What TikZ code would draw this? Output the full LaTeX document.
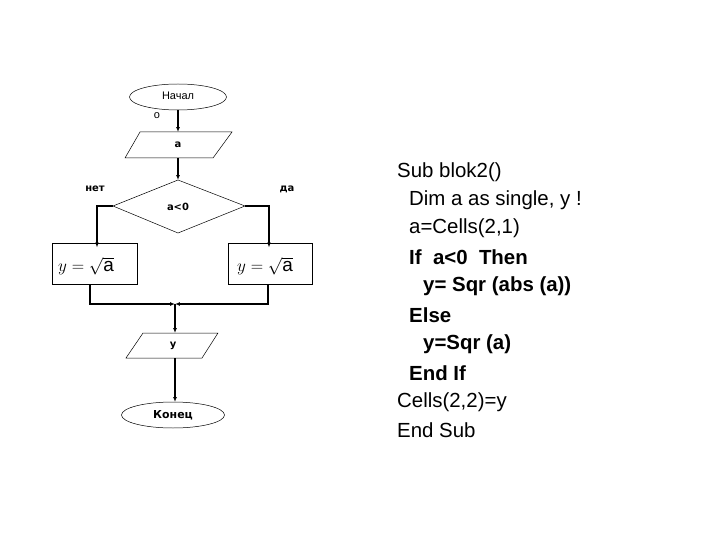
\documentclass[tikz,border=0pt]{standalone}
\usepackage{fontspec}
\setmainfont{Liberation Sans}
\newfontfamily\vfont{DejaVu Sans}
\usetikzlibrary{shapes.geometric,arrows.meta}
\begin{document}
\begin{tikzpicture}[x=1bp,y=-1bp,
  ln/.style={line width=0.5pt},
  ar/.style={line width=1.3pt,-{Latex[length=5pt,width=4pt]}},
  lab/.style={font=\vfont\bfseries\fontsize{10}{12}\selectfont},
  code/.style={anchor=west,inner sep=0pt,font=\fontsize{20.5}{24}\selectfont}]
\useasboundingbox (0,0) rectangle (720,540);
% start
\node[draw,ln,ellipse,minimum width=97bp,minimum height=26bp,inner sep=0pt] (start) at (178,97) {};
\node[font=\fontsize{11}{13}\selectfont] (t1) at (178,96) {Начал};
\node[font=\fontsize{11}{13}\selectfont] (t2) at (157,116) {о};
% input a
\draw[ln] (140,132) -- (232,132) -- (213,158) -- (125,158) -- cycle;
\node[lab] (in) at (178,145) {a};
\coordinate (inT) at (178,132); \coordinate (inB) at (178,158);
% diamond
\draw[ln] (178,180) -- (245,206) -- (178,233) -- (113,206) -- cycle;
\coordinate (dT) at (178,180); \coordinate (dL) at (113,206); \coordinate (dR) at (245,206);
\node[lab] (cond) at (178,207) {a<0};
\node[lab] (no) at (95,189) {нет};
\node[lab] (yes) at (287,189) {да};
% boxes
\node[draw,ln,minimum width=85bp,minimum height=41bp,inner sep=0pt] (bl) at (94.5,263.5) {};
\node[font=\fontspec{Liberation Serif}\fontsize{19}{22}\selectfont] (fl) at (86,266) {$y=\sqrt{\mathrm{a}}$};
\node[draw,ln,minimum width=84bp,minimum height=41bp,inner sep=0pt] (br) at (270,263.5) {};
\node[font=\fontspec{Liberation Serif}\fontsize{19}{22}\selectfont] (fr) at (265,266) {$y=\sqrt{\mathrm{a}}$};
% output y
\draw[ln] (143,333) -- (218,333) -- (202,358) -- (126,358) -- cycle;
\coordinate (oT) at (175,333); \coordinate (oB) at (175,358);
\node[lab] (out) at (173,346) {y};
% end
\node[draw,ln,ellipse,minimum width=103bp,minimum height=26bp,inner sep=0pt] (end) at (173,415) {};
\node[lab,font=\vfont\bfseries\fontsize{11}{13}\selectfont] (et) at (173,415) {Конец};
% connectors
\coordinate (m) at (175,304);
\coordinate (lt) at (97,242.5); \coordinate (rt) at (269,242.5);
\coordinate (lb) at (90,284); \coordinate (rb) at (268,284);
\draw[ar] (start.south -| inT) -- (inT);
\draw[ar] (inB) -- (dT);
\draw[ar] (dL) -| ([yshift=-5bp]lt);
\draw[ar] (dR) -| ([yshift=-5bp]rt);
\draw[ar] (lb) |- (m);
\draw[ar] (rb) |- (m);
\draw[ar] (m) -- (oT);
\draw[ar] (oB) -- (175,402);
% code
\node[code] (c1) at (397,172) {Sub blok2()};
\node[code] (c2) at (409,200) {Dim a as single, y !};
\node[code] (c3) at (409,228) {a=Cells(2,1)};
\node[code,font=\bfseries\fontsize{20.5}{24}\selectfont] (c4) at (409,257) {If\ \ a<0\ \ Then};
\node[code,font=\bfseries\fontsize{20.5}{24}\selectfont] (c5) at (423,286) {y= Sqr (abs (a))};
\node[code,font=\bfseries\fontsize{20.5}{24}\selectfont] (c6) at (409,315) {Else};
\node[code,font=\bfseries\fontsize{20.5}{24}\selectfont] (c7) at (423,344) {y=Sqr (a)};
\node[code,font=\bfseries\fontsize{20.5}{24}\selectfont] (c8) at (409,373) {End If};
\node[code] (c9) at (397,402) {Cells(2,2)=y};
\node[code] (c10) at (397,430) {End Sub};
\end{tikzpicture}
\end{document}
